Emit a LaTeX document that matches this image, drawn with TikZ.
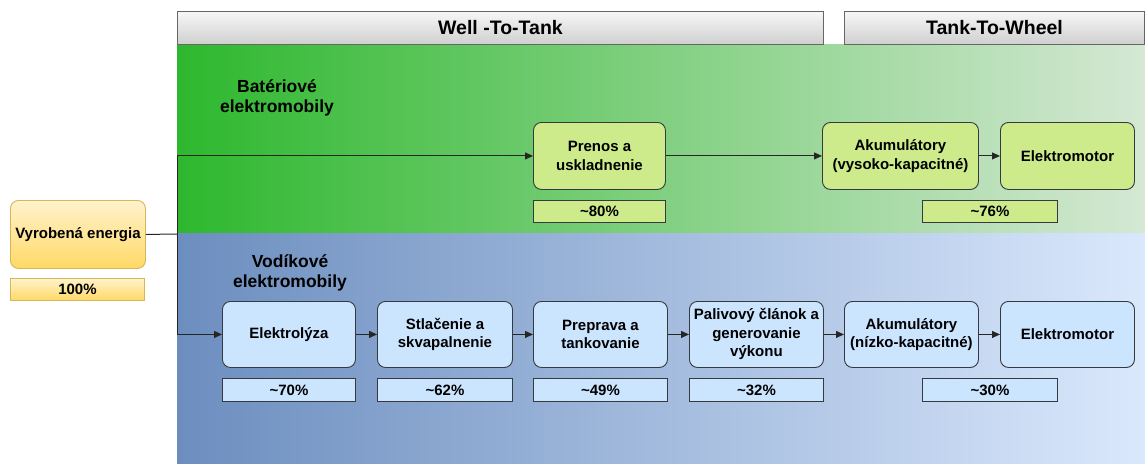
\documentclass[tikz,border=0pt]{standalone}
\usepackage{fontspec}
\setmainfont{Liberation Sans}
\usetikzlibrary{arrows.meta}
\definecolor{grnbox}{HTML}{CDEB8B}
\definecolor{bluebox}{HTML}{CCE5FF}
\definecolor{strk}{HTML}{36393D}
\definecolor{ylwtop}{HTML}{FFF2CC}
\definecolor{ylwbot}{HTML}{FFD966}
\definecolor{ylwstrk}{HTML}{D6B656}
\definecolor{grnL}{HTML}{2EB82E}
\definecolor{grnR}{HTML}{D5E8D4}
\definecolor{bluL}{HTML}{6C8EBF}
\definecolor{bluR}{HTML}{DAE8FC}
\definecolor{hdrtop}{HTML}{F7F7F7}
\definecolor{hdrbot}{HTML}{CFCFCF}
\tikzset{
  txt/.style={font=\fontsize{15}{18.5}\selectfont\bfseries, align=center, text=black},
  proc/.style={txt, draw=strk, rounded corners=8pt, inner sep=0pt, anchor=north west, line width=0.9pt},
  pct/.style={txt, draw=strk, inner sep=0pt, anchor=north west, line width=0.9pt},
  hdr/.style={draw=black!60, top color=hdrtop, bottom color=hdrbot, inner sep=0pt, anchor=north west, font=\fontsize{19.5}{22}\selectfont\bfseries, line width=0.9pt},
  lane/.style={txt, font=\fontsize{17.5}{20}\selectfont\bfseries},
  conn/.style={draw=black!85, line width=1pt},
  arr/.style={conn, -{Triangle[length=8pt,width=7pt]}},
}
\begin{document}
\begin{tikzpicture}[x=1pt,y=-1pt]
\useasboundingbox (0,0) rectangle (1145,463);
% bands
\fill[left color=grnL, right color=grnR] (177,44) rectangle (1145,233);
\fill[left color=bluL, right color=bluR] (177,233) rectangle (1145,463);
% headers
\node[hdr, minimum width=646pt, minimum height=33pt] (wtt) at (177,11) {Well -To-Tank};
\node[hdr, minimum width=300pt, minimum height=33pt] (ttw) at (844,11) {Tank-To-Wheel};
% lane labels
\node[lane] (bat) at (277,98) {Batériové\\elektromobily};
\node[lane] (vod) at (290,273) {Vodíkové\\elektromobily};
% source
\node[proc, draw=ylwstrk, top color=ylwtop, bottom color=ylwbot, minimum width=135pt, minimum height=68pt] (src) at (10,200) {Vyrobená energia};
\node[pct, draw=ylwstrk, top color=ylwtop, bottom color=ylwbot, minimum width=134pt, minimum height=22pt] (p100) at (10,278) {100\%};
% green row
\node[proc, fill=grnbox, minimum width=132pt, minimum height=67pt] (prenos) at (533,122) {Prenos a\\uskladnenie};
\node[proc, fill=grnbox, minimum width=156pt, minimum height=67pt] (akuV) at (822,122) {Akumulátory\\(vysoko-kapacitné)};
\node[proc, fill=grnbox, minimum width=134pt, minimum height=67pt] (emG) at (1000,122) {Elektromotor};
\node[pct, fill=grnbox, minimum width=132pt, minimum height=22pt] (p80) at (533,200) {\textasciitilde80\%};
\node[pct, fill=grnbox, minimum width=135pt, minimum height=22pt] (p76) at (922,200) {\textasciitilde76\%};
% blue row
\node[proc, fill=bluebox, minimum width=133pt, minimum height=66pt] (elz) at (222,301) {Elektrolýza};
\node[proc, fill=bluebox, minimum width=135pt, minimum height=66pt] (stl) at (377,301) {Stlačenie a\\skvapalnenie};
\node[proc, fill=bluebox, minimum width=134pt, minimum height=66pt] (pre) at (533,301) {Preprava a\\tankovanie};
\node[proc, fill=bluebox, minimum width=134pt, minimum height=66pt] (pal) at (689,301) {Palivový článok a\\generovanie\\výkonu};
\node[proc, fill=bluebox, minimum width=134pt, minimum height=66pt] (akuN) at (844,301) {Akumulátory\\(nízko-kapacitné)};
\node[proc, fill=bluebox, minimum width=134pt, minimum height=66pt] (emB) at (1000,301) {Elektromotor};
\node[pct, fill=bluebox, minimum width=133pt, minimum height=23pt] (p70) at (222,378) {\textasciitilde70\%};
\node[pct, fill=bluebox, minimum width=135pt, minimum height=23pt] (p62) at (377,378) {\textasciitilde62\%};
\node[pct, fill=bluebox, minimum width=134pt, minimum height=23pt] (p49) at (533,378) {\textasciitilde49\%};
\node[pct, fill=bluebox, minimum width=134pt, minimum height=23pt] (p32) at (689,378) {\textasciitilde32\%};
\node[pct, fill=bluebox, minimum width=135pt, minimum height=23pt] (p30) at (922,378) {\textasciitilde30\%};
% connectors
\coordinate (j) at (177,234);
\draw[conn] (src.east) -- (j);
\draw[arr] (j) |- (prenos.west);
\draw[arr] (j) |- (elz.west);
\draw[arr] (prenos.east) -- (akuV.west);
\draw[arr] (akuV.east) -- (emG.west);
\draw[arr] (elz.east) -- (stl.west);
\draw[arr] (stl.east) -- (pre.west);
\draw[arr] (pre.east) -- (pal.west);
\draw[arr] (pal.east) -- (akuN.west);
\draw[arr] (akuN.east) -- (emB.west);
\end{tikzpicture}
\end{document}
